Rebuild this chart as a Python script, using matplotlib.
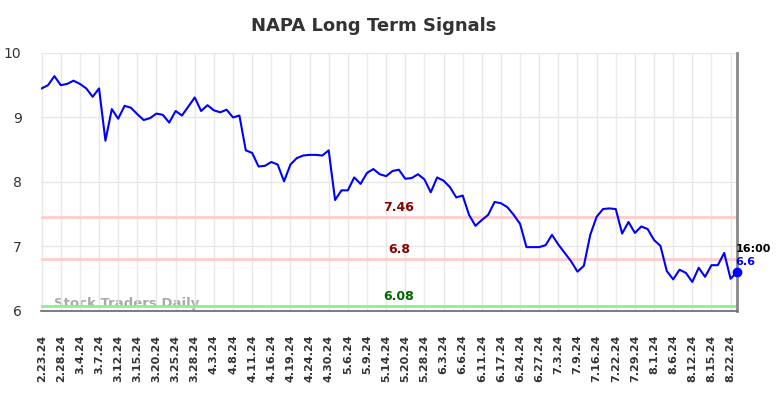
import numpy as np
import matplotlib
matplotlib.use("Agg")
import matplotlib.pyplot as plt

# closing prices (one per trading day)
prices = [9.45, 9.50, 9.64, 9.50, 9.52, 9.57, 9.52, 9.45, 9.32, 9.45,
          8.64, 9.13, 8.98, 9.18, 9.15, 9.05, 8.96, 8.99, 9.06, 9.04,
          8.92, 9.10, 9.03, 9.17, 9.31, 9.10, 9.19, 9.11, 9.08, 9.12,
          9.00, 9.03, 8.49, 8.45, 8.24, 8.25, 8.31, 8.27, 8.01, 8.27,
          8.37, 8.41, 8.42, 8.42, 8.41, 8.49, 7.72, 7.87, 7.87, 8.07,
          7.97, 8.14, 8.20, 8.12, 8.09, 8.17, 8.19, 8.05, 8.06, 8.12,
          8.04, 7.84, 8.07, 8.02, 7.92, 7.76, 7.79, 7.49, 7.32, 7.41,
          7.49, 7.69, 7.67, 7.61, 7.49, 7.35, 6.99, 6.99, 6.99, 7.02,
          7.18, 7.03, 6.90, 6.77, 6.61, 6.70, 7.18, 7.46, 7.58, 7.59,
          7.58, 7.20, 7.38, 7.21, 7.31, 7.27, 7.10, 7.01, 6.62, 6.49,
          6.64, 6.59, 6.45, 6.67, 6.53, 6.71, 6.71, 6.90, 6.50, 6.60]

tick_labels = ["2.23.24", "2.28.24", "3.4.24", "3.7.24", "3.12.24", "3.15.24",
               "3.20.24", "3.25.24", "3.28.24", "4.3.24", "4.8.24", "4.11.24",
               "4.16.24", "4.19.24", "4.24.24", "4.30.24", "5.6.24", "5.9.24",
               "5.14.24", "5.20.24", "5.28.24", "6.3.24", "6.6.24", "6.11.24",
               "6.17.24", "6.24.24", "6.27.24", "7.3.24", "7.9.24", "7.16.24",
               "7.22.24", "7.29.24", "8.1.24", "8.6.24", "8.12.24", "8.15.24",
               "8.22.24"]

resistance_hi = 7.46
resistance_lo = 6.8
support = 6.08
last_time = "16:00"

x = np.arange(len(prices))
tick_pos = np.arange(0, len(prices), 3)[:len(tick_labels)]

fig = plt.figure(figsize=(7.84, 3.98), dpi=100)
ax = fig.add_axes([0.0523, 0.2186, 0.8877, 0.6484])

ax.axhline(resistance_hi, color="#ffcccc", lw=2, zorder=1)
ax.axhline(resistance_lo, color="#ffcccc", lw=2, zorder=1)
ax.axhline(support, color="#90ee90", lw=2, zorder=1)

ax.text(0.018, 0.015, "Stock Traders Daily", transform=ax.transAxes,
        fontsize=9.5, fontweight="bold", color="#aaaaaa", zorder=0)

ax.plot(x, prices, color="#0000ff", lw=1.5, zorder=3)
ax.plot(x[-1], prices[-1], "o", color="#0000ff", ms=6, zorder=4, clip_on=False)

mid = 56
ax.text(mid, resistance_hi + 0.05, f"{resistance_hi}", color="#8b0000",
        fontsize=9, fontweight="bold", ha="center", va="bottom")
ax.text(mid, resistance_lo + 0.05, f"{resistance_lo}", color="#8b0000",
        fontsize=9, fontweight="bold", ha="center", va="bottom")
ax.text(mid, support + 0.05, f"{support}", color="#006400",
        fontsize=9, fontweight="bold", ha="center", va="bottom")

ax.text(x[-1] - 0.2, prices[-1] + 0.29, last_time, color="black",
        fontsize=8, fontweight="bold", ha="left", va="bottom")
ax.text(x[-1] - 0.2, prices[-1] + 0.08, f"{prices[-1]}", color="#0000ff",
        fontsize=8, fontweight="bold", ha="left", va="bottom")

ax.set_xlim(-0.1, len(prices) - 1)
ax.set_ylim(6, 10)
ax.set_yticks([6, 7, 8, 9, 10])
ax.set_xticks(tick_pos)
ax.set_xticklabels(tick_labels, rotation=90, fontsize=8, fontweight="bold",
                   color="#333333")
ax.tick_params(axis="y", length=0, pad=14, labelsize=10, labelcolor="#333333")
ax.tick_params(axis="x", length=0, pad=17)

ax.grid(True, color="#e8e8e8", lw=1)
ax.set_axisbelow(True)
for s in ["top", "left"]:
    ax.spines[s].set_visible(False)
ax.spines["bottom"].set_color("#666666")
ax.spines["bottom"].set_linewidth(1.2)
ax.spines["right"].set_color("#888888")
ax.spines["right"].set_linewidth(2)

fig.text(374 / 784, 1 - 26 / 398, "NAPA Long Term Signals", ha="center",
         va="center", fontsize=13, fontweight="bold", color="#333333")

fig.savefig("out.png", dpi=100)
